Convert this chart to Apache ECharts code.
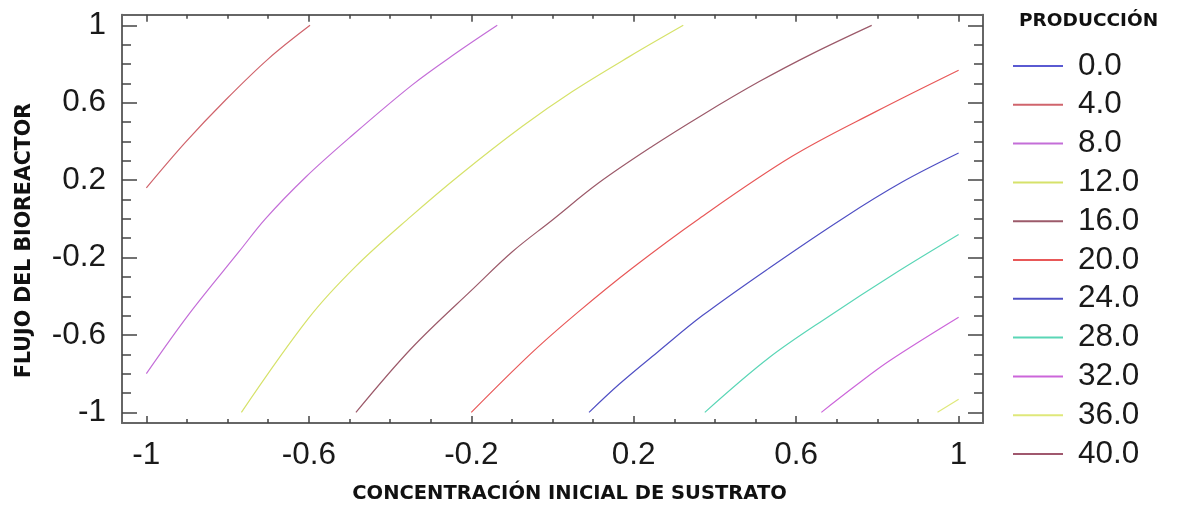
<!DOCTYPE html>
<html><head><meta charset="utf-8">
<script src="https://cdn.jsdelivr.net/npm/echarts@6/dist/echarts.min.js"></script>
<style>html,body{margin:0;padding:0;background:#fff}#c{width:1183px;height:509px}</style>
</head><body><div id="c"></div>
<script>
// ---- data ----
const levels = ['0.0','4.0','8.0','12.0','16.0','20.0','24.0','28.0','32.0','36.0','40.0'];
const levelColors = ['#5a5ad2','#d0646c','#c46ed8','#d6e26a','#9c5a6a','#e85858','#5050c4','#5ad6b6','#cc66da','#dfe87a','#a0586e'];
const majorTicks = [-1,-0.6,-0.2,0.2,0.6,1];
const minorTicks = [-0.9,-0.8,-0.7,-0.5,-0.4,-0.3,-0.1,0,0.1,0.3,0.4,0.5,0.7,0.8,0.9];
const line0 = [];
const line4 = [[-1,0.16],[-0.904,0.395],[-0.805,0.614],[-0.699,0.828],[-0.597,1]];
const line8 = [[-1,-0.80],[-0.896,-0.495],[-0.772,-0.17],[-0.707,0.0],[-0.608,0.215],[-0.501,0.417],[-0.346,0.691],[-0.239,0.854],[-0.136,1]];
const line12 = [[-0.766,-1],[-0.6,-0.512],[-0.485,-0.247],[-0.35,0.01],[-0.222,0.237],[-0.075,0.477],[0.048,0.657],[0.188,0.837],[0.322,1]];
const line16 = [[-0.484,-1],[-0.346,-0.666],[-0.19,-0.35],[-0.099,-0.17],[-0.001,-0.007],[0.114,0.186],[0.246,0.375],[0.369,0.537],[0.508,0.708],[0.64,0.854],[0.786,1]];
const line20 = [[-0.2,-1],[-0.05,-0.69],[0.065,-0.478],[0.196,-0.255],[0.361,0.001],[0.59,0.323],[0.796,0.554],[1,0.768]];
const line24 = [[0.09,-1],[0.164,-0.855],[0.262,-0.683],[0.369,-0.50],[0.533,-0.255],[0.714,0.001],[0.861,0.19],[1,0.34]];
const line28 = [[0.375,-1],[0.533,-0.718],[0.681,-0.503],[0.837,-0.29],[1,-0.081]];
const line32 = [[0.662,-1],[0.746,-0.863],[0.829,-0.735],[1,-0.509]];
const line36 = [[0.948,-1],[1,-0.932]];
const line40 = [];
const contourLines = [line0,line4,line8,line12,line16,line20,line24,line28,line32,line36,line40];

// ---- chart ----
const chart = echarts.init(document.getElementById('c'), null, {renderer:'canvas'});
const FONT = 'DejaVu Sans';
const NUMFONT = 'Liberation Sans';
const AX = {min:-1.06, max:1.06};
const AY = {min:-1.055, max:1.055};
const lineStyleAxis = {color:'#666', width:2};
const tickStyle = {color:'#444', width:1.5};

function xAx(pos, ticks, len, main){
  return {
    type:'value', position:pos, min:AX.min, max:AX.max,
    axisLine:{show:!!main, onZero:false, lineStyle:lineStyleAxis},
    axisTick:{show:true, inside:true, length:len, customValues:ticks, lineStyle:tickStyle},
    axisLabel: (main && pos==='bottom') ? {show:true, customValues:majorTicks, margin:16,
      fontFamily:NUMFONT, fontSize:31.5, color:'#1a1a1a', formatter:v=>String(v)} : {show:false},
    splitLine:{show:false},
    name: (main && pos==='bottom') ? 'CONCENTRACIÓN INICIAL DE SUSTRATO' : '',
    nameLocation:'middle', nameGap:61,
    nameTextStyle:{fontFamily:FONT, fontWeight:'bold', fontSize:19.5, color:'#111', padding:[0,0,0,34]}
  };
}
function yAx(pos, ticks, len, main){
  return {
    type:'value', position:pos, min:AY.min, max:AY.max,
    axisLine:{show:!!main, onZero:false, lineStyle:lineStyleAxis},
    axisTick:{show:true, inside:true, length:len, customValues:ticks, lineStyle:tickStyle},
    axisLabel: (main && pos==='left') ? {show:true, customValues:majorTicks, margin:16,
      fontFamily:NUMFONT, fontSize:31.5, color:'#1a1a1a', formatter:v=>String(v)} : {show:false},
    splitLine:{show:false}
  };
}

const series = levels.map((lv,i)=>({
  name:lv, type:'line', xAxisIndex:0, yAxisIndex:0,
  data:contourLines[i], showSymbol:false, smooth:0.35,
  lineStyle:{width:1.2, color:levelColors[i]}, itemStyle:{color:levelColors[i]},
  silent:true, animation:false
}));

chart.setOption({
  animation:false,
  backgroundColor:'#fff',
  grid:{left:122, width:861, top:14.7, height:411, containLabel:false},
  xAxis:[
    xAx('bottom', majorTicks, 7, true),
    xAx('bottom', minorTicks, 4, false),
    xAx('top', majorTicks, 7, true),
    xAx('top', minorTicks, 4, false)
  ],
  yAxis:[
    yAx('left', majorTicks, 15, true),
    yAx('left', minorTicks, 9, false),
    yAx('right', majorTicks, 15, true),
    yAx('right', minorTicks, 9, false)
  ],
  title:{text:'PRODUCCIÓN', left:1019, top:12, padding:0,
    textStyle:{fontFamily:FONT, fontWeight:'bold', fontSize:18.5, color:'#111'}},
  legend:{
    orient:'vertical', left:1013, top:50, itemWidth:50, itemHeight:2, itemGap:6.8,
    icon:'rect', selectedMode:false, padding:0,
    textStyle:{fontFamily:NUMFONT, fontSize:31.5, color:'#1a1a1a', lineHeight:30, padding:[0,0,0,10]},
    data:levels
  },
  graphic:[{
    type:'text', x:25, y:240.5, rotation:Math.PI/2,
    style:{text:'FLUJO DEL BIOREACTOR', fontFamily:FONT, fontWeight:'bold', fontSize:20.5,
      fill:'#111', align:'center', verticalAlign:'middle'}
  }],
  series:series
});
</script></body></html>
